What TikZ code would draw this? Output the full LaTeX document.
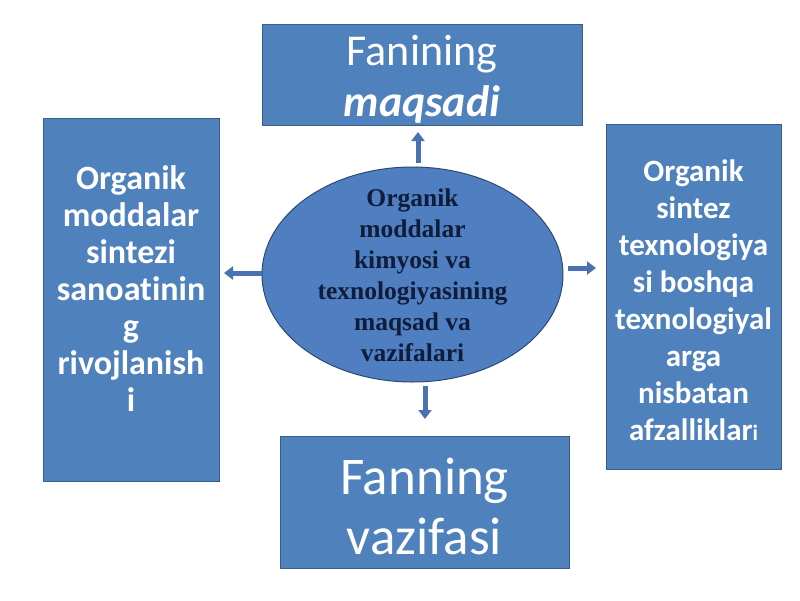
\documentclass[tikz,border=0pt]{standalone}
\usepackage{fontspec}
\setmainfont{Carlito}[Ligatures=NoCommon]
\newfontfamily\serifb{Liberation Serif}
\usetikzlibrary{arrows.meta,shapes.geometric}
\definecolor{boxblue}{HTML}{4F81BD}
\definecolor{boxedge}{HTML}{385D8A}
\definecolor{ellblue}{HTML}{4F7FC0}
\definecolor{elledge}{HTML}{2E4A73}
\definecolor{arrblue}{HTML}{4A72B0}
\definecolor{navy}{HTML}{0F1D3A}
\begin{document}
\begin{tikzpicture}[x=1pt,y=-1pt,
  box/.style={draw=boxedge, line width=1pt, fill=boxblue, text=white, align=center, inner sep=0pt},
  sidetext/.style={font=\bfseries\fontsize{34}{37}\selectfont},
  blockarr/.style={line width=5pt, draw=arrblue, -{Triangle[width=13pt,length=9pt]}}]
\useasboundingbox[fill=white] (0,0) rectangle (800,600);
\node[box, minimum width=320pt, minimum height=101pt] (top) at (422,74.5) {};
\node[text=white, align=center, font=\fontsize{44}{51}\selectfont] (toptext) at (422,79)
  {Fanining\\\textbf{\textit{maqsadi}}};
\node[box, minimum width=289pt, minimum height=132pt] (bot) at (424.5,502) {};
\node[text=white, align=center, font=\fontsize{53}{60}\selectfont] (bottext) at (424.5,506)
  {Fanning\\vazifasi};
\node[box, minimum width=176pt, minimum height=363pt] (left) at (131,299.5) {};
\node[text=white, align=center, sidetext] (lefttext) at (131,289)
  {Organik\\moddalar\\sintezi\\sanoatinin\\g\\rivojlanish\\i};
\node[box, minimum width=175pt, minimum height=345pt] (right) at (693.5,296.5) {};
\node[text=white, align=center, font=\bfseries\fontsize{31}{37}\selectfont] (righttext) at (693.5,300)
  {Organik\\sintez\\texnologiya\\si boshqa\\texnologiyal\\arga\\nisbatan\\afzalliklar{\fontsize{22}{22}\selectfont i}};
\node[ellipse, draw=elledge, line width=1pt, fill=ellblue, minimum width=301pt, minimum height=215pt, inner sep=0pt] (ell) at (412.5,274.5) {};
\node[text=navy, align=center, font=\serifb\bfseries\fontsize{25.5}{31}\selectfont] (elltext) at (412.5,275)
  {Organik\\moddalar\\kimyosi va\\texnologiyasining\\maqsad va\\vazifalari};
\coordinate (upS) at (418,163);
\coordinate (upE) at (418,132);
\coordinate (lfS) at (262,273);
\coordinate (lfE) at (224,273);
\coordinate (rtS) at (568,268);
\coordinate (rtE) at (596,268);
\coordinate (dnS) at (425,386);
\coordinate (dnE) at (425,419);
\draw[blockarr] (upS) -- (upE);
\draw[blockarr] (lfS) -- (lfE);
\draw[blockarr] (rtS) -- (rtE);
\draw[blockarr] (dnS) -- (dnE);
\end{tikzpicture}
\end{document}
